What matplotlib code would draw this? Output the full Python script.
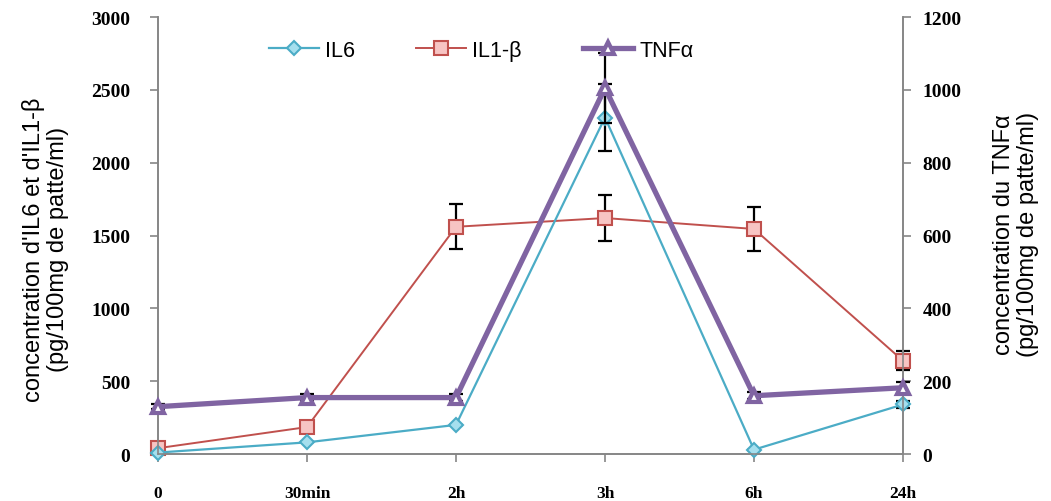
import matplotlib
matplotlib.use('Agg')
import matplotlib.pyplot as plt
import numpy as np

# catégories (temps)
temps = ['0', '30min', '2h', '3h', '6h', '24h']

# IL6 et IL1-β (axe gauche)
il6 = [10, 80, 200, 2310, 30, 340]
il6_err = [0, 0, 0, 230, 0, 25]
il1b = [40, 185, 1560, 1620, 1545, 640]
il1b_err = [0, 0, 155, 160, 150, 65]

# TNFα (axe droit)
tnfa = [130, 155, 155, 1005, 160, 182]
tnfa_err = [6, 10, 10, 95, 10, 15]

c_il6 = '#4BACC6'
c_il1 = '#C0504D'
c_tnf = '#8064A2'

sans = ['Liberation Sans', 'DejaVu Sans']
serif = ['Liberation Serif', 'DejaVu Serif']

fig = plt.figure(figsize=(10.51, 5.02), dpi=100)
ax = fig.add_axes([0.1503, 0.0936, 0.7089, 0.8705])
ax2 = ax.twinx()

x = np.arange(len(temps))

l1, = ax.plot(x, il6, color=c_il6, lw=1.6, marker='D', ms=7,
              mfc='#A5DFEE', mec=c_il6, mew=1.5, clip_on=False, zorder=4)
ax.errorbar(x, il6, yerr=il6_err, fmt='none', ecolor='black',
            elinewidth=1.6, capsize=5, capthick=1.6, zorder=3, clip_on=False)
l2, = ax.plot(x, il1b, color=c_il1, lw=1.4, marker='s', ms=10,
              mfc='#F7C4C3', mec=c_il1, mew=1.5, clip_on=False, zorder=3)
ax.errorbar(x, il1b, yerr=il1b_err, fmt='none', ecolor='black',
            elinewidth=1.6, capsize=5, capthick=1.6, zorder=2, clip_on=False)

ax2.errorbar(x, tnfa, yerr=tnfa_err, fmt='none', ecolor='black',
             elinewidth=1.6, capsize=5, capthick=1.6, zorder=2, clip_on=False)
l3, = ax2.plot(x, tnfa, color=c_tnf, lw=3.8, marker='^', ms=9,
               mfc='white', mec=c_tnf, mew=3, clip_on=False, zorder=3)

ax.set_xlim(0, 5)
ax.set_ylim(0, 3000)
ax2.set_ylim(0, 1200)
ax.set_yticks(np.arange(0, 3001, 500))
ax2.set_yticks(np.arange(0, 1201, 200))
ax.set_xticks(x)
ax.set_xticklabels(temps)

for a in (ax, ax2):
    for s in a.spines.values():
        s.set_color('#868686')
        s.set_linewidth(1.2)
    a.spines['top'].set_visible(False)
    a.tick_params(colors='#868686', width=1.2, length=6, direction='out')
    for lab in a.get_yticklabels():
        lab.set_family(serif)
        lab.set_fontsize(14)
        lab.set_fontweight('bold')
        lab.set_color('black')

ax.tick_params(axis='x', pad=16)
for lab in ax.get_xticklabels():
    lab.set_family(serif)
    lab.set_fontsize(12.5)
    lab.set_fontweight('bold')
    lab.set_color('black')
ax.tick_params(axis='y', pad=14)
ax2.tick_params(axis='y', pad=8)

ax.set_ylabel("concentration d'IL6 et d'IL1-β\n(pg/100mg de patte/ml)",
              family=sans, fontsize=17, linespacing=1.1)
ax.yaxis.set_label_coords(-0.12, 0.47)
ax2.set_ylabel("concentration du TNFα\n(pg/100mg de patte/ml)",
               family=sans, fontsize=17, linespacing=1.1)
ax2.yaxis.set_label_coords(1.121, 0.505)

leg = fig.legend([l1, l2, l3], ['IL6', 'IL1-β', 'TNFα'], ncol=3,
                 loc='center', bbox_to_anchor=(0.4577, 0.898), frameon=False,
                 prop={'family': sans, 'size': 15.5}, handlelength=2.33,
                 columnspacing=2.84, handletextpad=0.28)

fig.savefig('out.png', dpi=100)
